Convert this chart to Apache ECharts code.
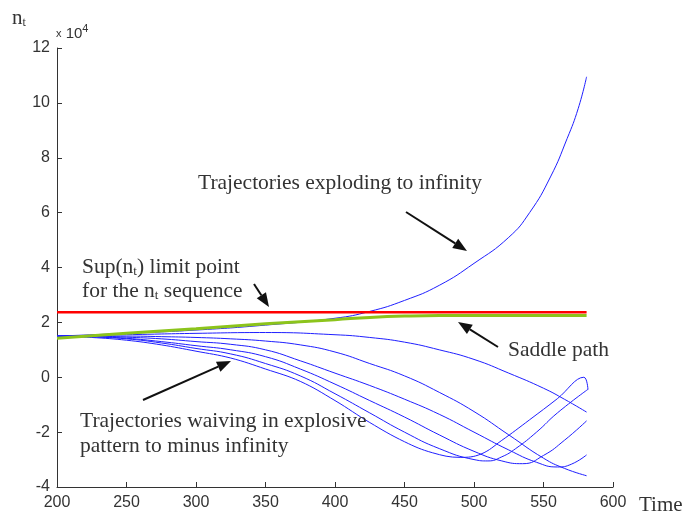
<!DOCTYPE html>
<html>
<head>
<meta charset="utf-8">
<script src="https://cdn.jsdelivr.net/npm/echarts@6/dist/echarts.min.js"></script>
<style>
html,body{margin:0;padding:0;background:#fff;}
#chart{width:688px;height:516px;}
</style>
</head>
<body>
<div id="chart"></div>
<script>
// Data (values in units of 10^4)
const xTicks = [200, 250, 300, 350, 400, 450, 500, 550, 600];
const yTicks = [-4, -2, 0, 2, 4, 6, 8, 10, 12];

const tExplode = [200,250,300,350,400,425,450,475,500,525,540,555,567,575,581];
const vExplode = [1.5,1.6,1.72,1.9,2.15,2.4,2.8,3.35,4.15,5.1,6.0,7.3,8.7,9.8,10.95];

const tSlow = [200,250,300,350,400,425,450,475,500,525,550,565,581];
const vSlow = [1.5,1.55,1.6,1.63,1.55,1.45,1.28,1.0,0.65,0.15,-0.4,-0.8,-1.27];

const tWave5 = [200,225,250,275,300,325,350,375,400,425,450,475,500,525,550,565,581];
const vWave5 = [1.5,1.5,1.5,1.48,1.45,1.4,1.32,1.18,0.92,0.5,0.05,-0.55,-1.25,-2.1,-2.95,-3.32,-3.59];

const tWave4 = [200,225,250,275,300,325,350,375,400,425,450,475,500,525,545,560,570,581];
const vWave4 = [1.5,1.5,1.46,1.4,1.3,1.2,1.0,0.6,0.15,-0.3,-0.8,-1.35,-2.0,-2.65,-3.1,-3.27,-3.17,-2.83];

const tWave3 = [200,225,250,275,300,325,350,375,400,425,450,475,500,520,535,550,565,581];
const vWave3 = [1.5,1.48,1.42,1.3,1.15,1.0,0.75,0.3,-0.25,-0.85,-1.45,-2.1,-2.7,-3.05,-3.15,-2.85,-2.3,-1.59];

const tWave2 = [200,225,250,275,300,325,350,375,400,425,450,475,500,510,520,530,545,560,582];
const vWave2 = [1.5,1.47,1.4,1.25,1.05,0.85,0.5,0.05,-0.6,-1.3,-2.0,-2.6,-3.0,-3.05,-2.9,-2.6,-2.0,-1.3,-0.44];

const tWave1 = [200,225,250,275,300,325,350,375,400,425,450,470,490,505,520,540,560,579,582];
const vWave1 = [1.5,1.45,1.35,1.18,0.95,0.7,0.3,-0.15,-0.85,-1.65,-2.35,-2.75,-2.92,-2.8,-2.3,-1.55,-0.78,0.0,-0.45];

const tSaddle = [200,250,300,350,400,425,450,475,500,581];
const vSaddle = [1.42,1.6,1.77,1.95,2.1,2.18,2.23,2.25,2.25,2.25];

const tSup = [200, 581];
const vSup = [2.37, 2.37];

function pairs(t, v) { return t.map((x, i) => [x, v[i]]); }

const blue = '#1f1fff';
const serif = 'Liberation Serif, Times New Roman, serif';
const sans = 'Liberation Sans, Arial, sans-serif';
const textCol = '#333';

function blueSeries(t, v, sm) {
  return { type: 'line', data: pairs(t, v), smooth: sm, showSymbol: false, silent: true,
           lineStyle: { color: blue, width: 1 }, z: 2 };
}

function arrow(x1, y1, x2, y2) {
  const ang = Math.atan2(y2 - y1, x2 - x1);
  const L = 14, W = 5.5;
  const bx = x2 - L * Math.cos(ang), by = y2 - L * Math.sin(ang);
  const px = -Math.sin(ang) * W, py = Math.cos(ang) * W;
  return [
    { type: 'line', shape: { x1: x1, y1: y1, x2: bx, y2: by }, style: { stroke: '#111', lineWidth: 2 }, z: 10 },
    { type: 'polygon', shape: { points: [[x2, y2], [bx + px, by + py], [bx - px, by - py]] }, style: { fill: '#111' }, z: 10 }
  ];
}

function label(x, y, text) {
  return { type: 'text', x: x, y: y, z: 10,
    style: { text: text, font: '21.5px ' + serif, fill: textCol, textVerticalAlign: 'middle',
             rich: { s: { fontSize: 13, fontFamily: serif, fill: textCol, padding: [10, 0, 0, 0] } } } };
}

const chart = echarts.init(document.getElementById('chart'), null, { renderer: 'canvas' });

const option = {
  animation: false,
  backgroundColor: '#fff',
  grid: { left: 57, right: 75, top: 48, bottom: 28, containLabel: false },
  xAxis: {
    type: 'value', min: xTicks[0], max: xTicks[xTicks.length - 1], interval: 50,
    name: 'Time', nameLocation: 'end', nameGap: 26,
    nameTextStyle: { fontFamily: serif, fontSize: 21, color: textCol, verticalAlign: 'top', padding: [8, 0, 0, 0] },
    axisLine: { show: true, onZero: false, lineStyle: { color: '#333', width: 1 } },
    axisTick: { show: true, inside: true, length: 5, lineStyle: { color: '#333' } },
    axisLabel: { fontFamily: sans, fontSize: 16, color: textCol, margin: 8 },
    splitLine: { show: false }
  },
  yAxis: {
    type: 'value', min: yTicks[0], max: yTicks[yTicks.length - 1], interval: 2,
    axisLine: { show: true, onZero: false, lineStyle: { color: '#333', width: 1 } },
    axisTick: { show: true, inside: true, length: 5, lineStyle: { color: '#333' } },
    axisLabel: { fontFamily: sans, fontSize: 16, color: textCol, margin: 7 },
    splitLine: { show: false }
  },
  series: [
    blueSeries(tExplode, vExplode, 0.5),
    blueSeries(tSlow, vSlow, 0.5),
    blueSeries(tWave5, vWave5, 0.5),
    blueSeries(tWave4, vWave4, 0.5),
    blueSeries(tWave3, vWave3, 0.5),
    blueSeries(tWave2, vWave2, 0.5),
    blueSeries(tWave1, vWave1, 0.4),
    { type: 'line', data: pairs(tSaddle, vSaddle), smooth: 0.5, showSymbol: false, silent: true,
      lineStyle: { color: '#8cc41c', width: 3 }, z: 3 },
    { type: 'line', data: pairs(tSup, vSup), showSymbol: false, silent: true,
      lineStyle: { color: '#ff0000', width: 2.5 }, z: 4 }
  ],
  graphic: [
    { type: 'text', x: 12, y: 18, z: 10,
      style: { text: 'n{s|t}', font: '21px ' + serif, fill: textCol, textVerticalAlign: 'middle',
               rich: { s: { fontSize: 12, fontFamily: serif, fill: textCol, padding: [10, 0, 0, 0] } } } },
    { type: 'text', x: 56, y: 34, z: 10,
      style: { text: '{x|x} 10{p|4}', font: '15px ' + sans, fill: textCol, textVerticalAlign: 'middle',
               rich: { x: { fontSize: 11, fontFamily: sans, fill: textCol }, p: { fontSize: 11, fontFamily: sans, fill: textCol, padding: [0, 0, 10, 0] } } } },
    label(198, 183, 'Trajectories exploding to infinity'),
    label(82, 267, 'Sup(n{s|t}) limit point'),
    label(82, 291, 'for the n{s|t} sequence'),
    label(508, 350, 'Saddle path'),
    label(80, 421, 'Trajectories waiving in explosive'),
    label(80, 446, 'pattern to minus infinity'),
    ...arrow(406, 212, 467, 251),
    ...arrow(254, 284, 269, 307),
    ...arrow(498, 347, 458, 322),
    ...arrow(143, 400, 231, 361)
  ]
};
chart.setOption(option);
</script>
</body>
</html>
